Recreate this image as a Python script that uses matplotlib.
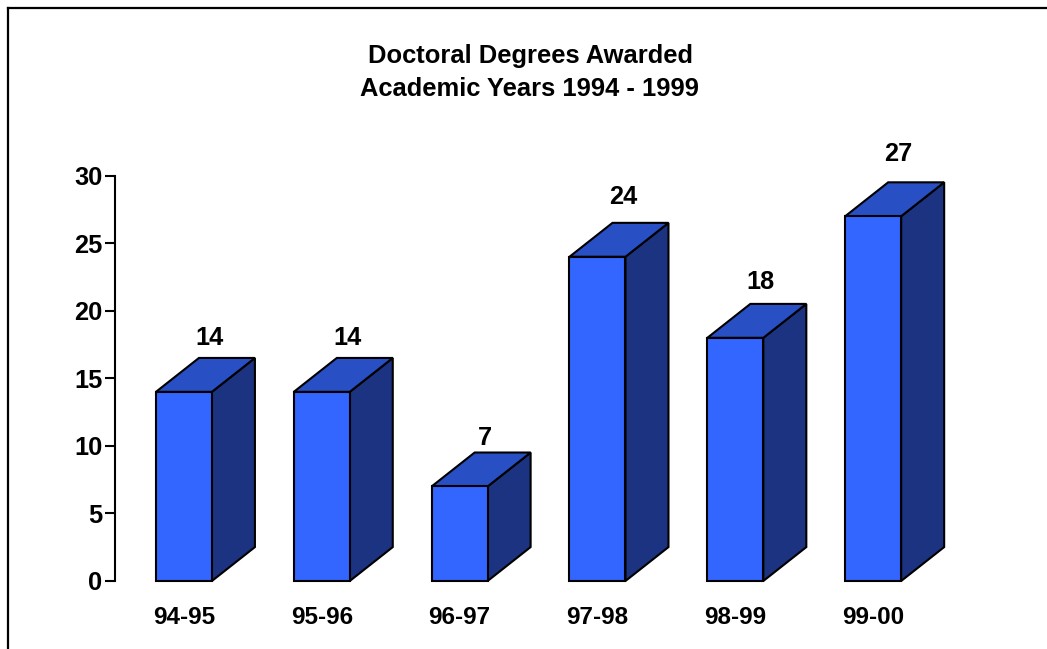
import matplotlib.pyplot as plt
from matplotlib.patches import Polygon
from matplotlib.lines import Line2D

plt.rcParams['font.family'] = ['Liberation Sans', 'DejaVu Sans']
plt.rcParams['font.weight'] = 'bold'

years = ['94-95', '95-96', '96-97', '97-98', '98-99', '99-00']
degrees = [14, 14, 7, 24, 18, 27]

FRONT = '#3366ff'
TOP = '#2850c4'
SIDE = '#1b3380'

W, H = 1047, 649
fig = plt.figure(figsize=(W / 100, H / 100), dpi=100)
ax = fig.add_axes([115 / W, 68 / H, 885 / W, 405.3 / H])

bw = 0.406   # front face width
dx = 0.312   # depth, x
dy = 2.51    # depth, y

for i, v in enumerate(degrees):
    x0, x1 = i - bw / 2, i + bw / 2
    front = [(x0, 0), (x1, 0), (x1, v), (x0, v)]
    top = [(x0, v), (x1, v), (x1 + dx, v + dy), (x0 + dx, v + dy)]
    side = [(x1, 0), (x1 + dx, dy), (x1 + dx, v + dy), (x1, v)]
    for pts, c in [(side, SIDE), (top, TOP), (front, FRONT)]:
        ax.add_patch(Polygon(pts, closed=True, facecolor=c, edgecolor='black',
                             linewidth=1.5, joinstyle='miter', clip_on=False))
    ax.text(i + 0.185, 1.05 * v + 2.74, str(v), ha='center', va='baseline',
            fontsize=18.3, fontweight='bold', clip_on=False)

ax.set_xlim(-0.5, 5.92)
ax.set_ylim(0, 30)
ax.set_yticks(range(0, 31, 5))
ax.set_xticks(range(len(years)))
ax.set_xticklabels(years)
ax.tick_params(axis='y', length=7, width=1.5, pad=2, labelsize=18.3)
ax.tick_params(axis='x', length=0, pad=18, labelsize=17.5)
for s in ['top', 'right', 'bottom']:
    ax.spines[s].set_visible(False)
ax.spines['left'].set_linewidth(1.5)

fig.text(530 / W, 1 - 56 / H, 'Doctoral Degrees Awarded', ha='center',
         va='center', fontsize=18.4, fontweight='bold')
fig.text(530 / W, 1 - 89 / H, 'Academic Years 1994 - 1999', ha='center',
         va='center', fontsize=18.4, fontweight='bold')

# frame lines (left and top only)
fig.add_artist(Line2D([8 / W, 8 / W], [0, 1 - 8 / H], color='black',
                      linewidth=1.6, transform=fig.transFigure))
fig.add_artist(Line2D([8 / W, 1], [1 - 8 / H, 1 - 8 / H], color='black',
                      linewidth=1.6, transform=fig.transFigure))

fig.savefig('out.png', dpi=100)
